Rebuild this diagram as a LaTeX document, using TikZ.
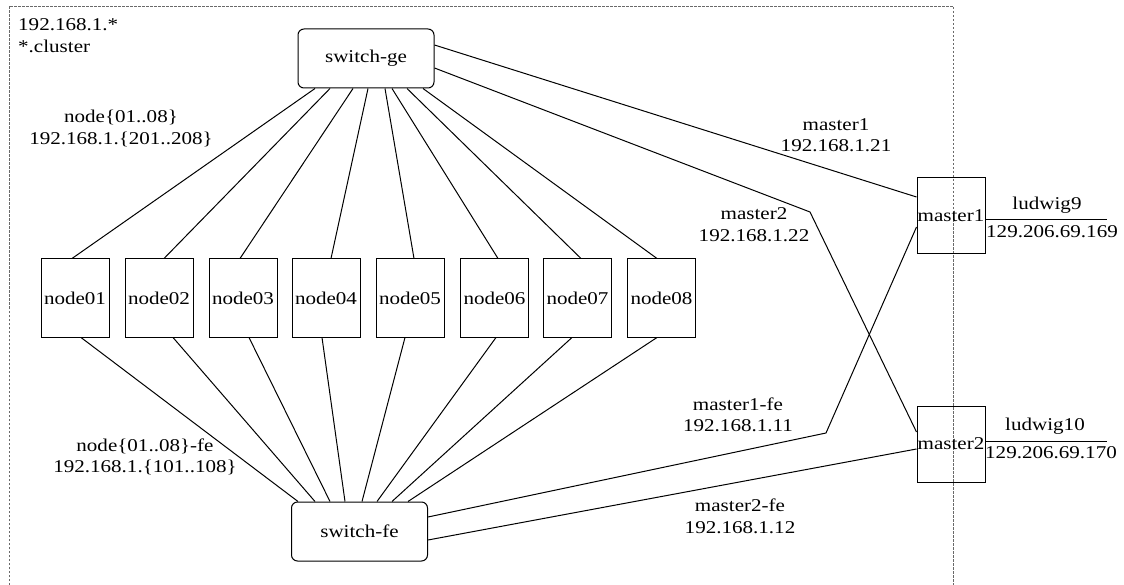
\documentclass[tikz,border=0pt]{standalone}
\usepackage{fontspec}
\setmainfont{Liberation Serif}[FakeStretch=1.17]
\usepackage{xcolor}
\definecolor{framegray}{RGB}{105,105,105}

\begin{document}
\begin{tikzpicture}[x=1pt, y=-1pt, font=\fontsize{18}{21.5}\selectfont,
    hostbox/.style={draw, line width=1pt, inner sep=0pt, minimum width=68pt, minimum height=78pt},
    switchbox/.style={draw, line width=1pt, rounded corners=6pt, inner sep=0pt, minimum width=136pt, minimum height=59pt},
    lbl/.style={inner sep=0pt, align=center},
    link/.style={line width=1pt}]

    \useasboundingbox (0,0) rectangle (1124,585);
    \draw [framegray, line width=0.8pt, dash pattern=on 2.5pt off 1.5pt] (9,585) -- (9,6) -- (953,6) -- (953,585);
    \draw (18,35.5) node[lbl, align=left, anchor=west](net){192.168.1.*\\*.cluster};

    \draw (366,58.5) node[switchbox](sg){switch-ge};
    \draw (359.5,531.5) node[switchbox](sf){switch-fe};

    \foreach \i/\x in {1/75,2/159,3/243,4/326,5/410,6/494.5,7/577.5,8/661.5}
        \draw (\x,298) node[hostbox](n\i){node0\i};

    \draw (951,216) node[hostbox, minimum height=76pt](m1){master1};
    \draw (951,444) node[hostbox, minimum height=76pt](m2){master2};

    \foreach \i/\a/\b in {1/-51/-3,2/-36/5,3/-13/-3,4/2/5,5/19/4,6/26/3.5,7/41/3.5,8/57/-4.5}
        \draw [link] ([xshift=\a]sg.south) -- ([xshift=\b]n\i.north);
    \foreach \i/\a/\b in {1/6/-61.5,2/14/-44.5,3/6/-29.5,4/-4/-14.5,5/-5/2.5,6/1.5/17.5,7/-5.5/32.5,8/-4.5/48.5}
        \draw [link] ([xshift=\a]n\i.south) -- ([xshift=\b]sf.north);

    \coordinate (b2) at (810,212);
    \coordinate (b1) at (826,433);
    \draw [link] ([yshift=13.5]sg.east) -- ([yshift=19]m1.west);
    \draw [link] ([yshift=-9.5]sg.east) -- (b2) -- ([yshift=12]m2.west);
    \draw [link] ([yshift=14.5]sf.east) -- (b1) -- ([yshift=-11]m1.west);
    \draw [link] ([yshift=-8.5]sf.east) -- ([yshift=-5]m2.west);

    \coordinate (l9) at (1107,220);
    \coordinate (l10) at (1107,441);
    \draw [link] (m1.east |- l9) -- (l9);
    \draw [link] (m2.east |- l10) -- (l10);

    \draw (121,128.5) node[lbl](geip){node\{01..08\}\\192.168.1.\{201..208\}};
    \draw (145,457) node[lbl](feip){node\{01..08\}-fe\\192.168.1.\{101..108\}};
    \draw (836,135) node[lbl](m1ip){master1\\192.168.1.21};
    \draw (754,224.5) node[lbl](m2ip){master2\\192.168.1.22};
    \draw (738,415) node[lbl](m1feip){master1-fe\\192.168.1.11};
    \draw (740,516.5) node[lbl](m2feip){master2-fe\\192.168.1.12};

    \draw (1047,205.5) node[lbl](l9name){ludwig9};
    \draw (1052,232) node[lbl](l9ip){129.206.69.169};
    \draw (1045,426) node[lbl](l10name){ludwig10};
    \draw (1051,453) node[lbl](l10ip){129.206.69.170};

\end{tikzpicture}
\end{document}
